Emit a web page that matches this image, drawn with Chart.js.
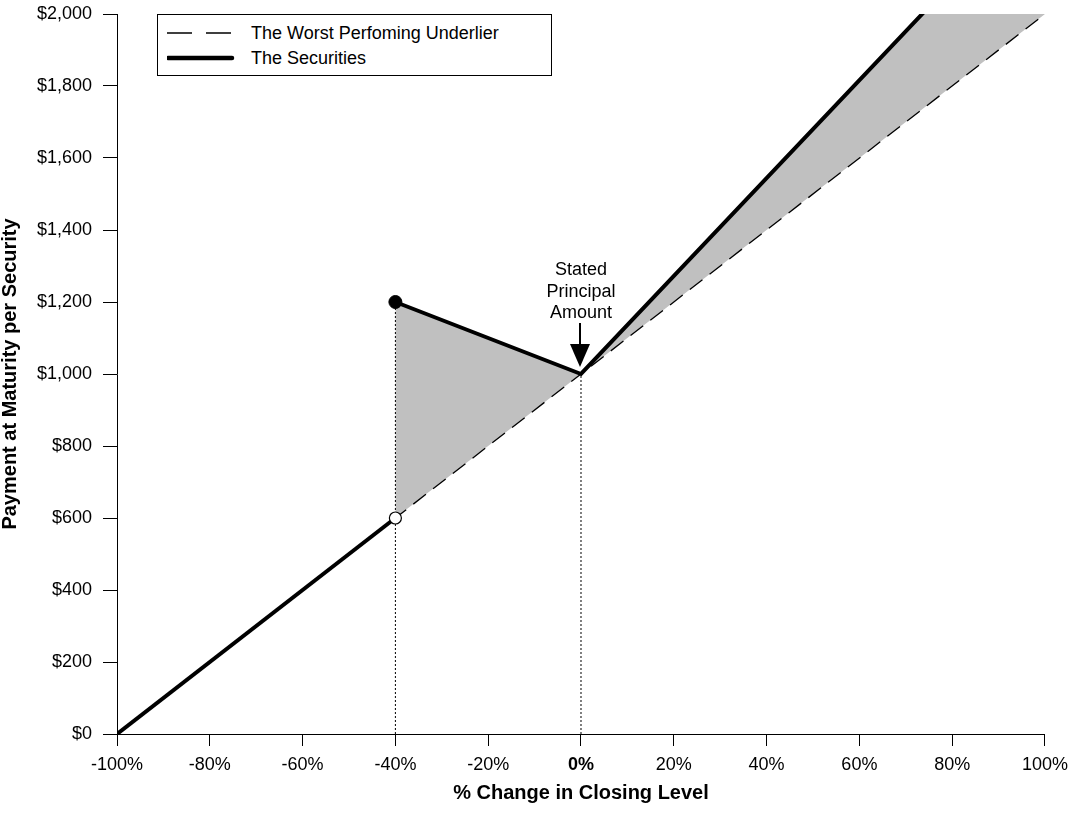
<!DOCTYPE html>
<html>
<head>
<meta charset="utf-8">
<title>Payment at Maturity per Security</title>
<script src="https://cdn.jsdelivr.net/npm/chart.js@4.4.1/dist/chart.umd.min.js"></script>
<style>
    body { margin: 0; background: #fff; font-family: "Liberation Sans", Arial, sans-serif; }
    #wrap { position: relative; width: 1076px; height: 813px; }
    #legend {
        position: absolute; left: 157px; top: 14px; width: 395px; height: 62px;
        border: 1px solid #000; background: #fff; box-sizing: border-box;
    }
    .row { position: absolute; left: 9px; height: 22px; display: flex; align-items: center; font-size: 18px; color: #000; }
    .row svg { width: 68px; height: 10px; margin-right: 16px; }
</style>
</head>
<body>
<div id="wrap">
    <canvas id="payoffChart"></canvas>
    <div id="legend">
        <div class="row" style="top: 7px;">
            <svg viewBox="0 0 68 10"><line x1="0" y1="5" x2="66" y2="5" stroke="#000" stroke-width="1.5" stroke-dasharray="25 14"/></svg>
            <span>The Worst Perfoming Underlier</span>
        </div>
        <div class="row" style="top: 32px;">
            <svg viewBox="0 0 68 10"><line x1="1" y1="5" x2="65" y2="5" stroke="#000" stroke-width="4.5" stroke-linecap="round"/></svg>
            <span>The Securities</span>
        </div>
    </div>
</div>
<script>
// Values
const xTickValues = [-100, -80, -60, -40, -20, 0, 20, 40, 60, 80, 100];
const yTickValues = [0, 200, 400, 600, 800, 1000, 1200, 1400, 1600, 1800, 2000];

// % change in closing level vs payment per security
const underlierX = [-100, 100];
const underlierY = [0, 2000];

const securitiesDownX = [-100, -40];
const securitiesDownY = [0, 600];

const securitiesUpX = [-40, 0, 100];
const securitiesUpY = [1200, 1000, 2360];

const barrierX = -40;
const principalX = 0;
const principalY = 1000;

const toPoints = (xs, ys) => xs.map((x, i) => ({ x: x, y: ys[i] }));

const FONT = '"Liberation Sans", Arial, sans-serif';

// Stated Principal Amount label with its arrow
const principalNote = {
    id: 'principalNote',
    afterDatasetsDraw(chart) {
        const ctx = chart.ctx;
        const px = chart.scales.x.getPixelForValue(principalX);
        const py = chart.scales.y.getPixelForValue(principalY);
        ctx.save();
        ctx.fillStyle = '#000';
        ctx.strokeStyle = '#000';
        ctx.font = '18px ' + FONT;
        ctx.textAlign = 'center';
        ctx.textBaseline = 'middle';
        ctx.fillText('Stated', px, py - 104);
        ctx.fillText('Principal', px, py - 82);
        ctx.fillText('Amount', px, py - 61);
        ctx.lineWidth = 2;
        ctx.beginPath();
        ctx.moveTo(px - 1, py - 51);
        ctx.lineTo(px - 1, py - 28);
        ctx.stroke();
        ctx.beginPath();
        ctx.moveTo(px - 11, py - 30);
        ctx.lineTo(px + 9, py - 30);
        ctx.lineTo(px - 1, py - 7);
        ctx.closePath();
        ctx.fill();
        ctx.restore();
    }
};

const ctx = document.getElementById('payoffChart').getContext('2d');
new Chart(ctx, {
    type: 'scatter',
    data: {
        datasets: [
            {
                // knock-in payment point (filled)
                data: toPoints([barrierX], [securitiesUpY[0]]),
                pointRadius: 6.5,
                pointBackgroundColor: '#000',
                pointBorderColor: '#000',
                pointBorderWidth: 1,
            },
            {
                // open point on the underlier line
                data: toPoints([barrierX], [securitiesDownY[1]]),
                pointRadius: 6,
                pointBackgroundColor: '#fff',
                pointBorderColor: '#000',
                pointBorderWidth: 1.2,
            },
            {
                label: 'The Securities',
                data: toPoints(securitiesDownX, securitiesDownY),
                showLine: true,
                borderColor: '#000',
                borderWidth: 4,
                pointRadius: 0,
            },
            {
                label: 'The Securities',
                data: toPoints(securitiesUpX, securitiesUpY),
                showLine: true,
                borderColor: '#000',
                borderWidth: 4,
                pointRadius: 0,
                fill: { target: 4, above: '#c0c0c0', below: '#c0c0c0' },
            },
            {
                label: 'The Worst Perfoming Underlier',
                data: toPoints(underlierX, underlierY),
                showLine: true,
                borderColor: '#000',
                borderWidth: 1.3,
                borderDash: [16, 9],
                pointRadius: 0,
            },
            {
                data: toPoints([barrierX, barrierX], [0, securitiesUpY[0]]),
                showLine: true,
                borderColor: '#000',
                borderWidth: 1,
                borderDash: [2, 2],
                pointRadius: 0,
            },
            {
                data: toPoints([principalX, principalX], [0, principalY]),
                showLine: true,
                borderColor: '#000',
                borderWidth: 1,
                borderDash: [2, 2],
                pointRadius: 0,
            },
        ],
    },
    options: {
        responsive: true,
        maintainAspectRatio: false,
        animation: false,
        layout: { padding: { top: 14, right: 31, left: 0, bottom: 0 } },
        plugins: {
            legend: { display: false },
            tooltip: { enabled: false },
            filler: { drawTime: 'beforeDatasetsDraw' },
        },
        scales: {
            x: {
                type: 'linear',
                min: -100,
                max: 100,
                afterBuildTicks: scale => { scale.ticks = xTickValues.map(v => ({ value: v })); },
                afterFit: scale => { scale.height = 79; },
                grid: { display: true, drawOnChartArea: false, drawTicks: true, tickLength: 12, color: '#000' },
                border: { display: true, color: '#000', width: 1 },
                ticks: {
                    color: '#000',
                    padding: 8,
                    maxRotation: 0,
                    font: c => ({ family: FONT, size: 18, weight: c.tick && c.tick.value === 0 ? 'bold' : 'normal' }),
                    callback: v => v + '%',
                },
                title: {
                    display: true,
                    text: '% Change in Closing Level',
                    color: '#000',
                    font: { family: FONT, size: 20, weight: 'bold', lineHeight: 1 },
                    padding: { top: 0, bottom: 10 },
                },
            },
            y: {
                type: 'linear',
                min: 0,
                max: 2000,
                afterBuildTicks: scale => { scale.ticks = yTickValues.map(v => ({ value: v })); },
                afterFit: scale => {
                    scale.width = 117;
                    scale.paddingTop = 0;
                    scale.paddingBottom = 0;
                },
                grid: { display: true, drawOnChartArea: false, drawTicks: true, tickLength: 14, color: '#000' },
                border: { display: true, color: '#000', width: 1 },
                ticks: {
                    color: '#000',
                    padding: 11,
                    font: { family: FONT, size: 18 },
                    callback: v => '$' + v.toLocaleString('en-US'),
                },
                title: {
                    display: true,
                    text: 'Payment at Maturity per Security',
                    color: '#000',
                    font: { family: FONT, size: 20, weight: 'bold', lineHeight: 1 },
                    padding: { top: 0, bottom: 0 },
                },
            },
        },
    },
    plugins: [principalNote],
});
</script>
</body>
</html>
